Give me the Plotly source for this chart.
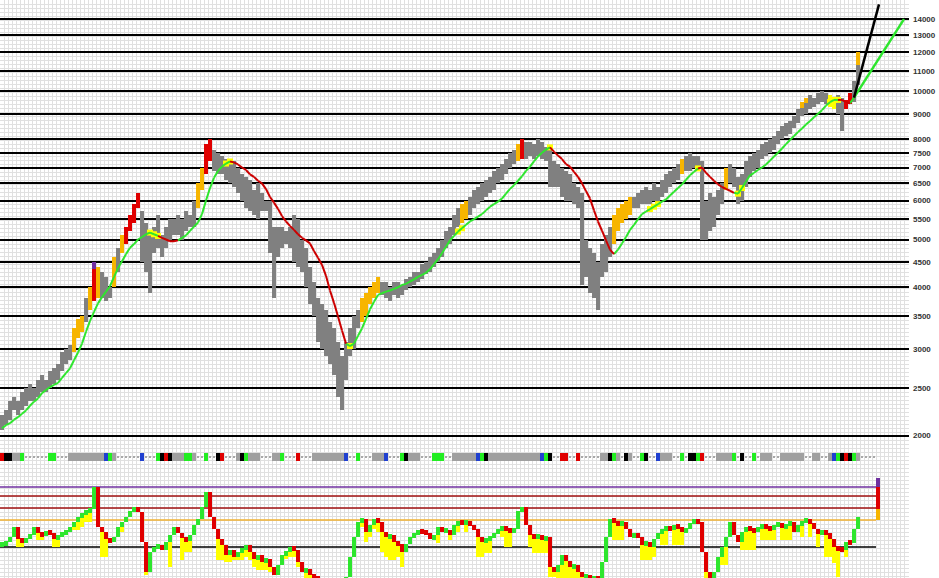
import math
import plotly.graph_objects as go

# ---------------- data ----------------
hi = [
2200,2250,2350,2400,2350,2450,2500,2550,2500,2600,
2650,2600,2700,2750,2800,2950,3000,3050,3300,3450,
3500,3800,4000,4500,4400,4300,4200,4000,4600,4800,
5100,5300,5600,5900,6200,5700,5400,5200,5300,5600,
5100,5300,5500,5500,5600,5500,5700,5600,6000,6500,
7000,7800,8000,7600,7500,7400,7300,7100,7200,7000,
6800,6700,6600,6300,6500,6200,6000,6000,5300,5300,
5300,5200,5300,5600,5500,5000,4800,4400,4100,3800,
3700,3600,3400,3300,3100,2900,3100,3300,3500,3600,
3800,3900,4000,4100,4200,4100,4100,4000,4100,4100,
4050,4150,4200,4300,4300,4450,4500,4600,4700,4800,
5000,5200,5300,5600,5800,5900,6000,6100,6300,6400,
6500,6600,6700,6900,7000,7100,7300,7500,7600,7800,
8000,7900,7900,7800,8000,7900,7700,7600,7200,7100,
7000,6900,6800,6500,6400,6200,5000,4800,4700,4500,
4900,5100,5300,5600,5800,5900,6000,6100,6100,6200,
6300,6400,6300,6500,6400,6600,6800,6900,7000,7100,
7300,7400,7500,7400,7400,7200,6000,6200,6100,6300,
6500,7000,7100,7000,6700,6800,7200,7400,7500,7600,
7800,7900,8000,8100,8300,8500,8600,8700,8900,9200,
9500,9700,9800,9700,9900,10000,9900,9800,9700,9800,
9700,9600,9900,10500,12000]

lo = [
2050,2100,2150,2250,2200,2250,2300,2350,2350,2400,
2450,2450,2500,2550,2600,2700,2800,2850,2950,3150,
3250,3400,3600,3750,3800,3800,3750,3800,4000,4300,
4700,4900,5200,5400,5800,4500,4300,3900,4700,4800,
4600,4800,5000,5100,5100,5000,5200,5300,5300,5800,
6300,6800,7200,6900,6800,6800,6600,6500,6400,6200,
6000,5800,5700,5600,5500,5700,5700,4700,3800,4600,
4800,4900,4800,4500,4400,4300,4000,3700,3500,3100,
3000,2900,2800,2650,2400,2250,2600,2900,3000,3300,
3400,3500,3700,3800,3900,3850,3800,3750,3850,3800,
3850,3950,4000,4050,4100,4150,4250,4300,4400,4500,
4600,4800,4900,5100,5300,5400,5500,5600,5800,5900,
6000,6100,6200,6300,6500,6600,6800,7000,7100,7200,
7300,7300,7400,7300,7400,7300,7200,6400,6400,6400,
6100,6000,6000,5900,5800,4050,4200,3900,3800,3600,
4200,4300,4600,4900,5200,5400,5500,5600,5800,5800,
5900,5900,5900,6000,6000,6100,6200,6400,6500,6600,
6800,6900,6900,7000,6900,5000,5000,5200,5300,5600,
5900,6300,6500,6400,5900,6000,6400,6700,6900,7000,
7300,7400,7500,7600,7800,8000,8100,8200,8400,8600,
8900,9000,9200,9300,9400,9500,9400,9300,9200,9000,
8300,9200,9400,9500,10300]

bar_state = ("G"*18 + "ooo" + "G" + "o" + "r" + "o" + "GGG" + "o" + "G" + "o" + "rrrr"
             + "G"*14 + "oo" + "rr" + "G"*37 + "ooooo" + "G"*20 + "oo" + "G"*12 + "o" + "r"
             + "G"*22 + "ooooo" + "G"*12 + "o" + "G"*10 + "o" + "G"*25 + "yy" + "GG" + "rr" + "GG")

cap_idx = [23, 200, 201, 214]
cap_lo = [4350, 9250, 9450, 11300]
cap_hi = [4500, 9500, 9700, 12000]
cap_state = ["p", "o", "o", "o"]

ma = [
2070,2100,2120,2155,2180,2215,2250,2300,2345,2380,
2440,2475,2510,2535,2560,2620,2680,2740,2845,2950,
3075,3250,3420,3565,3710,3820,3920,4020,4200,4370,
4520,4670,4810,4895,5000,5060,5125,5165,5125,5085,
5040,5000,4960,4960,4980,5040,5100,5210,5310,5415,
5630,6000,6360,6670,6890,7030,7130,7200,7170,7100,
7000,6920,6780,6700,6580,6500,6330,6100,5940,5770,
5580,5440,5330,5230,5125,5040,4980,4910,4740,4590,
4440,4220,3940,3720,3490,3270,3075,3040,3075,3190,
3300,3450,3610,3740,3860,3890,3920,3940,3970,4000,
4045,4065,4110,4150,4200,4240,4280,4350,4455,4560,
4690,4835,4980,5085,5190,5270,5355,5440,5500,5565,
5630,5730,5830,5900,5970,6055,6195,6335,6445,6580,
6720,6890,7030,7200,7370,7500,7615,7690,7540,7400,
7280,7110,7030,6860,6700,6500,6270,6055,5730,5440,
5210,4980,4770,4670,4770,4910,5060,5230,5355,5500,
5630,5700,5765,5830,5900,5970,6030,6140,6250,6360,
6470,6610,6750,6860,6970,7000,6830,6700,6580,6470,
6390,6335,6280,6220,6195,6360,6555,6750,6830,6920,
7000,7100,7230,7370,7500,7650,7810,7960,8110,8260,
8400,8555,8700,8850,9000,9150,9350,9500,9600,9600,
9600,9500,9450,9700]

ma_state = ("g"*37 + "y"*3 + "r"*5 + "g"*11 + "y"*2 + "r"*29 + "y" + "g"*26 + "y"*2 + "g"*21
            + "y" + "r"*16 + "g"*8 + "y"*3 + "g"*9 + "y" + "r"*9 + "y"*2 + "g"*21 + "y"*3 + "r"*3 + "g")

proj_green_x = [213, 225.5]
proj_green_y = [9700, 14000]
proj_black_x = [213, 219.25]
proj_black_y = [9700, 15000]

level_vals = [2000, 2500, 3000, 3500, 4000, 4500, 5000, 5500, 6000, 6500, 7000,
              7500, 8000, 9000, 10000, 11000, 12000, 13000, 14000]

strip = ("rkkGGg" + "llllll" + "gg" + "lll" + "GGGGGGGGG" + "bgG" + "llllll" + "b" + "lll"
         + "gkrk" + "GGG" + "ggG" + "llgllkr" + "lll" + "GkgGGG" + "lllGGg" + "lllrlll"
         + "GGGGGGGG" + "bllg" + "lllGGGb" + "lll" + "gkGGGlll" + "gggll" + "GGGGGG" + "bgk"
         + "GGGGGGGGGGGGG" + "bgkllrrllr" + "lllll" + "GGkgGlkGllgkllb" + "GGGllglkkgr"
         + "lllGGGGglkllglGGGllGGGGG" + "GllGGllGbgkrkgG" + "llll")

osc = [
3,5,10,20,8,5,9,12,20,14,
12,15,14,8,12,13,16,20,25,30,
33,36,38,60,20,15,8,6,10,20,
25,30,36,40,35,5,-25,-5,0,2,
-3,5,12,20,14,10,6,12,22,28,
40,55,30,18,8,2,-8,-3,-10,-5,
-2,2,-5,-12,-8,-15,-12,-20,-28,-18,
-8,-5,0,-3,-15,-25,-22,-28,-30,-33,
-35,-40,-38,-36,-40,-35,-30,-10,10,25,
28,15,22,28,25,15,10,12,5,3,
-5,3,10,14,16,15,14,8,12,20,
16,17,12,22,26,24,25,22,18,10,
5,8,10,14,18,20,18,16,18,36,
40,22,12,10,12,8,10,-20,-25,-18,
-8,-14,-20,-18,-25,-30,-28,-32,-30,-33,
-15,10,28,26,22,25,18,10,14,10,
2,5,0,8,14,18,20,17,22,20,
15,18,24,27,25,-5,-25,-33,-25,-10,
0,10,25,12,5,15,20,18,15,20,
22,20,18,22,24,20,22,25,15,22,
26,27,24,18,14,16,14,8,0,-2,
-3,5,4,18,30]

osc_lo = [
None,None,None,None,0,0,None,None,None,7,
7,None,None,0,0,None,None,17,17,17,
20,25,25,None,None,-10,-10,None,None,15,
15,None,None,None,None,None,-28,None,None,None,
None,None,-20,None,None,-13,-5,-5,None,None,
None,None,None,None,-13,-13,-15,-15,-13,-13,
-13,-10,-13,-20,-23,-23,-23,-25,None,None,
-15,-12,-10,-10,-20,None,-31,-31,-31,-31,
None,None,None,None,None,None,None,None,None,15,
20,5,10,18,15,-5,-10,-13,-13,-10,
-20,0,None,None,None,None,None,None,None,4,
None,None,7,None,15,None,15,None,None,-10,
-10,-6,-6,None,None,10,0,0,None,None,
None,None,0,-6,-6,-6,-6,-30,-30,-31,
-31,-31,-31,-31,-31,-31,-31,-31,-31,-31,
None,None,None,7,7,7,None,None,None,None,
-13,-13,-13,-10,None,2,2,None,2,2,
2,None,None,None,None,None,-31,-31,-31,-18,
-18,-18,None,None,None,-3,-3,-3,-3,None,
7,7,7,7,None,7,7,7,None,None,
10,None,10,None,0,None,-10,-10,-16,-30,
None,-10,None,None,None]

osc_levels = [60, 51, 39, 27, 0]
osc_level_cols = ["#7030a0", "#a01010", "#a01010", "#f0b030", "#000000"]
gauge_lo = [27, 38, 60]
gauge_hi = [38, 60, 69]
gauge_cols = ["#f7b500", "#e00000", "#7030a0"]

# ---------------- figure ----------------
W, H = 939, 578
DX = 909 / W
COL = {"G": "#808080", "o": "#f7b500", "r": "#e00000", "y": "#ffff00", "p": "#7030a0"}
GREEN = "#2ee62e"
XR = [-0.5, -0.5 + 909 / 4]

fig = go.Figure()
fig.add_trace(go.Scatter(x=[0], y=[0], mode="markers", marker=dict(opacity=0),
                         hoverinfo="skip", showlegend=False, xaxis="x", yaxis="y"))

idx = list(range(len(hi)))
fig.add_trace(go.Bar(x=idx, base=lo, y=[h - l for h, l in zip(hi, lo)], width=1,
                     marker=dict(color=[COL[s] for s in bar_state], line=dict(width=0)),
                     xaxis="x2", yaxis="y2", showlegend=False, hoverinfo="skip"))
fig.add_trace(go.Bar(x=cap_idx, base=cap_lo, y=[h - l for h, l in zip(cap_hi, cap_lo)], width=1,
                     marker=dict(color=[COL[s] for s in cap_state], line=dict(width=0)),
                     xaxis="x2", yaxis="y2", showlegend=False, hoverinfo="skip"))

yx = [i for i, s in enumerate(ma_state) if s == "y"]
fig.add_trace(go.Scatter(x=yx, y=[ma[i] for i in yx], mode="markers",
                         marker=dict(symbol="square", size=6, color="#ffff00"),
                         xaxis="x2", yaxis="y2", showlegend=False, hoverinfo="skip"))
for col_key, col in (("g", GREEN), ("r", "#cc0000")):
    xs, ys = [], []
    for i in range(1, len(ma)):
        k = "r" if ma_state[i] == "r" else "g"
        if k == col_key:
            xs += [i - 1, i, None]
            ys += [ma[i - 1], ma[i], None]
    fig.add_trace(go.Scatter(x=xs, y=ys, mode="lines", line=dict(color=col, width=2),
                             xaxis="x2", yaxis="y2", showlegend=False, hoverinfo="skip"))

fig.add_trace(go.Scatter(x=proj_green_x, y=proj_green_y, mode="lines",
                         line=dict(color=GREEN, width=2.5), xaxis="x2", yaxis="y2",
                         showlegend=False, hoverinfo="skip"))
fig.add_trace(go.Scatter(x=proj_black_x, y=proj_black_y, mode="lines",
                         line=dict(color="#000000", width=2.5), xaxis="x2", yaxis="y2",
                         showlegend=False, hoverinfo="skip"))

SCOL = {"G": "#a0a0a0", "g": "#22ee22", "k": "#000000", "r": "#e00000", "b": "#2040d0"}
sx = [i for i, s in enumerate(strip) if s != "l"]
fig.add_trace(go.Bar(x=sx, base=[0] * len(sx), y=[1] * len(sx), width=1,
                     marker=dict(color=[SCOL[strip[i]] for i in sx], line=dict(width=0)),
                     xaxis="x4", yaxis="y4", showlegend=False, hoverinfo="skip"))
lx = [i for i, s in enumerate(strip) if s == "l"]
fig.add_trace(go.Bar(x=lx, base=[0.4] * len(lx), y=[0.25] * len(lx), width=0.5,
                     marker=dict(color="#a8a8a8", line=dict(width=0)),
                     xaxis="x4", yaxis="y4", showlegend=False, hoverinfo="skip"))

yb_x, yb_b, yb_h = [], [], []
bx, bb, bh, bc = [], [], [], []
for i, c in enumerate(osc):
    p = osc[i - 1] if i > 0 else c
    bot, top = min(p, c), max(p, c)
    if top - bot < 5:
        m = (top + bot) / 2
        bot, top = m - 2.5, m + 2.5
    bx.append(i); bb.append(bot); bh.append(top - bot)
    bc.append(GREEN if c >= p else "#e00000")
    if osc_lo[i] is not None and osc_lo[i] < bot:
        yb_x.append(i); yb_b.append(osc_lo[i]); yb_h.append(bot - osc_lo[i])
fig.add_trace(go.Bar(x=yb_x, base=yb_b, y=yb_h, width=1,
                     marker=dict(color="#ffff00", line=dict(width=0)),
                     xaxis="x5", yaxis="y5", showlegend=False, hoverinfo="skip"))
fig.add_trace(go.Bar(x=bx, base=bb, y=bh, width=1,
                     marker=dict(color=bc, line=dict(width=0)),
                     xaxis="x5", yaxis="y5", showlegend=False, hoverinfo="skip"))
fig.add_trace(go.Bar(x=[219] * 3, base=gauge_lo, y=[h - l for h, l in zip(gauge_hi, gauge_lo)],
                     width=1, marker=dict(color=gauge_cols, line=dict(width=0)),
                     xaxis="x5", yaxis="y5", showlegend=False, hoverinfo="skip"))

shapes = []
for lv, lc in zip(osc_levels, osc_level_cols):
    shapes.append(dict(type="line", xref="x5", yref="y5", x0=-0.5, x1=218.5, y0=lv, y1=lv,
                       line=dict(color=lc, width=1.3), layer="below"))

hidden = dict(showgrid=False, showticklabels=False, zeroline=False, ticks="", showline=False)
fig.update_layout(
    width=W, height=H, margin=dict(l=0, r=0, t=0, b=0, pad=0),
    paper_bgcolor="white", plot_bgcolor="rgba(0,0,0,0)",
    barmode="overlay", bargap=0, showlegend=False,
    font=dict(family="Liberation Sans, Arial, sans-serif", size=8, color="#222"),
    shapes=shapes,
    xaxis=dict(domain=[0, DX], range=[0, 909], anchor="y", showgrid=True, gridcolor="#e0e0e0",
               gridwidth=1, tick0=0, dtick=4, showticklabels=False, zeroline=False, ticks=""),
    yaxis=dict(domain=[0, 1], range=[578, 0], anchor="x", showgrid=True, gridcolor="#e0e0e0",
               gridwidth=1, tick0=0, dtick=4, showticklabels=False, zeroline=False, ticks=""),
    xaxis2=dict(domain=[0, DX], range=XR, anchor="y2", **hidden),
    yaxis2=dict(domain=[130 / H, 1], type="log", anchor="x2", side="right",
                range=[math.log10(1888), math.log10(15310)],
                tickmode="array", tickvals=level_vals, ticktext=[str(v) for v in level_vals],
                showgrid=True, gridcolor="#000000", gridwidth=1.6, zeroline=False, ticks="",
                ticklen=0, ticklabelstandoff=3, showline=False,
                tickfont=dict(size=8, color="#333", weight="bold",
                              family="Liberation Sans, Arial, sans-serif")),
    xaxis4=dict(domain=[0, DX], range=XR, anchor="y4", **hidden),
    yaxis4=dict(domain=[117 / H, 125 / H], range=[0, 1], anchor="x4", **hidden),
    xaxis5=dict(domain=[0, DX], range=XR, anchor="y5", **hidden),
    yaxis5=dict(domain=[0, 116 / H], range=[-31, 85], anchor="x5", **hidden),
)

fig.write_html("out.html", config={"displayModeBar": False},
               post_script="document.body.style.margin='0';document.body.style.overflow='hidden';")
